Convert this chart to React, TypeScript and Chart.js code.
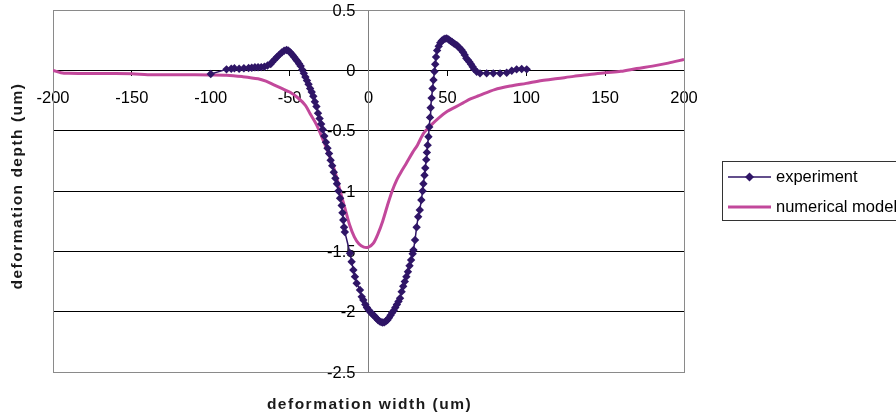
import React, { useEffect, useRef } from "react";
import { Chart, registerables } from "chart.js";

Chart.register(...registerables);

// Measured profile across the deformation (x in um, depth in um)
const experimentX: number[] = [
  -100, -90, -87, -85, -82, -79, -76, -74, -72, -70, -68, -66,
  -64, -62, -61, -59.5, -58, -56.5, -55, -53.5, -52, -51, -50, -49, -48, -47, -46, -45, -44, -43,
  -42, -41, -40, -39, -38, -37, -36, -35, -34, -33, -32, -31, -30, -29, -28, -27, -26, -25, -24, -23,
  -22, -21, -20, -19, -18, -17, -16.5, -16, -15.5, -15,
  -11.7, -10.7, -9.6, -8.6, -7.5, -5.4, -4.3, -3.3, -2, -1, 0, 1, 2, 3, 4, 5, 6, 7, 8, 9, 10, 11, 12,
  13, 14, 15, 16, 17, 18, 19, 20, 21, 22, 23, 24, 25, 26, 27, 28, 28.5, 29.5, 30.5, 31.5, 32.5, 33.5,
  34.3, 34.8, 35.5, 36, 36.6, 37, 37.5, 38, 38.5, 39, 39.4, 40, 40.6, 41.2, 41.8, 42.3, 42.8, 43.5,
  44.5, 45.5, 46.5, 47.5, 48.5, 49.6, 50.8, 52, 53, 54, 55, 56, 57, 58, 59, 60, 61, 62, 63, 64, 65,
  66, 67, 68.6, 70.7, 74.9, 79.1, 83.4, 87.6, 90.8, 93.9, 97.1, 100.3,
];
const experimentY: number[] = [
  -0.03, 0.008, 0.013, 0.017, 0.013, 0.017, 0.019, 0.022, 0.025, 0.025, 0.027, 0.03,
  0.04, 0.052, 0.07, 0.09, 0.11, 0.13, 0.148, 0.162, 0.168, 0.165, 0.155, 0.14, 0.125, 0.108, 0.09, 0.075, 0.055, 0.035,
  0.005, -0.025, -0.055, -0.085, -0.115, -0.15, -0.18, -0.215, -0.26, -0.3, -0.355, -0.4, -0.445, -0.49, -0.545, -0.595, -0.645, -0.69, -0.745, -0.79,
  -0.845, -0.895, -0.94, -1.0, -1.06, -1.12, -1.18, -1.24, -1.3, -1.34,
  -1.516, -1.586, -1.655, -1.71, -1.765, -1.82, -1.876, -1.903, -1.94, -1.965, -1.985, -2.0, -2.015, -2.027, -2.04, -2.055, -2.07, -2.08, -2.087, -2.09, -2.088, -2.08, -2.07,
  -2.05, -2.03, -2.01, -1.99, -1.965, -1.94, -1.915, -1.889, -1.834, -1.79, -1.751, -1.71, -1.669, -1.62, -1.572, -1.52, -1.489, -1.406, -1.3, -1.213, -1.157, -1.075,
  -1.0, -0.94, -0.87, -0.81, -0.74, -0.68, -0.62, -0.55, -0.47, -0.39, -0.31, -0.23, -0.15, -0.08, -0.01, 0.05, 0.11, 0.165,
  0.2, 0.228, 0.245, 0.255, 0.262, 0.265, 0.255, 0.243, 0.235, 0.225, 0.215, 0.208, 0.195, 0.18, 0.168, 0.15, 0.128, 0.1, 0.085, 0.07, 0.05,
  0.03, 0.01, -0.012, -0.025, -0.025, -0.025, -0.025, -0.02, -0.003, 0.008, 0.011, 0.008,
];

// Simulated profile from the numerical model
const modelX: number[] = [
  -200, -195, -190, -170, -150, -140, -120, -100, -90, -80, -70, -65, -60, -55, -50, -45, -40, -37,
  -33, -29, -25, -21, -18, -15, -12, -9, -6, -3, 0, 3, 6, 9, 12, 15, 18, 21, 24, 28, 31, 35, 40, 45,
  50, 55, 60, 65, 70, 80, 90, 100, 110, 120, 130, 140, 150, 160, 170, 180, 190, 200,
];
const modelY: number[] = [
  0.0, -0.02, -0.025, -0.027, -0.028, -0.036, -0.037, -0.038, -0.04, -0.052, -0.07, -0.09, -0.12, -0.15, -0.18, -0.225, -0.29, -0.36,
  -0.45, -0.57, -0.7, -0.85, -1.0, -1.14, -1.28, -1.38, -1.44, -1.465, -1.465, -1.435, -1.355, -1.25, -1.12, -1.0, -0.905, -0.835, -0.77, -0.68, -0.62, -0.52, -0.45, -0.39,
  -0.34, -0.305, -0.27, -0.235, -0.21, -0.16, -0.13, -0.108, -0.085, -0.068, -0.05, -0.035, -0.02, -0.008, 0.015, 0.035, 0.06, 0.09,
];

const xTicks: number[] = [-200, -150, -100, -50, 0, 50, 100, 150, 200];
const yTicks: number[] = [0.5, 0, -0.5, -1, -1.5, -2, -2.5];

const seriesNames: string[] = ["experiment", "numerical model"];
const xTitle = "deformation width (um)";
const yTitle = "deformation depth (um)";

const EXP_COLOR = "#2f1566";
const MODEL_COLOR = "#c2489b";
const FONT = "'Liberation Sans', Arial, sans-serif";
const TICK_FONT = `16.5px ${FONT}`;

const toPoints = (xs: number[], ys: number[]) => xs.map((x, i) => ({ x, y: ys[i] }));

const decorPlugin = {
  id: "decor",
  beforeDatasetsDraw(chart: any) {
    const { ctx, chartArea: a, scales } = chart;
    ctx.save();
    // plot-area frame
    ctx.strokeStyle = "#8a8a8a";
    ctx.lineWidth = 1;
    ctx.strokeRect(Math.round(a.left) + 0.5, Math.round(a.top) + 0.5, Math.round(a.right - a.left), Math.round(a.bottom - a.top));
    // value labels beside the vertical axis, which crosses at x = 0
    const axisX = scales.x.getPixelForValue(0);
    ctx.fillStyle = "#000";
    ctx.font = TICK_FONT;
    ctx.textAlign = "right";
    ctx.textBaseline = "middle";
    yTicks.forEach((v) => {
      ctx.fillText(String(v), axisX - 13, scales.y.getPixelForValue(v) + 1);
    });
    ctx.restore();
  },
  afterDraw(chart: any) {
    const { ctx, chartArea: a } = chart;
    ctx.save();
    // axis titles
    ctx.fillStyle = "#1a1a1a";
    ctx.font = `bold 15.5px ${FONT}`;
    (ctx as any).letterSpacing = "1.5px";
    ctx.textAlign = "center";
    ctx.textBaseline = "middle";
    ctx.fillText(xTitle, (a.left + a.right) / 2 + 1, 405);
    ctx.save();
    ctx.translate(18, (a.top + a.bottom) / 2 - 5);
    ctx.rotate(-Math.PI / 2);
    ctx.fillText(yTitle, 0, 0);
    ctx.restore();
    (ctx as any).letterSpacing = "0px";

    // legend
    const lx = 722, ly = 161, lw = 300, lh = 59;
    ctx.strokeStyle = "#333";
    ctx.lineWidth = 1;
    ctx.strokeRect(lx + 0.5, ly + 0.5, lw, lh);
    const rows = [177, 207];
    ctx.font = TICK_FONT;
    ctx.textAlign = "left";
    ctx.textBaseline = "middle";
    ctx.strokeStyle = EXP_COLOR;
    ctx.lineWidth = 1.5;
    ctx.beginPath();
    ctx.moveTo(728, rows[0]);
    ctx.lineTo(771, rows[0]);
    ctx.stroke();
    ctx.fillStyle = EXP_COLOR;
    ctx.beginPath();
    ctx.moveTo(749.5, rows[0] - 4.5);
    ctx.lineTo(754, rows[0]);
    ctx.lineTo(749.5, rows[0] + 4.5);
    ctx.lineTo(745, rows[0]);
    ctx.closePath();
    ctx.fill();
    ctx.strokeStyle = MODEL_COLOR;
    ctx.lineWidth = 3;
    ctx.beginPath();
    ctx.moveTo(728, rows[1]);
    ctx.lineTo(771, rows[1]);
    ctx.stroke();
    ctx.fillStyle = "#000";
    ctx.fillText(seriesNames[0], 776, rows[0]);
    ctx.fillText(seriesNames[1], 776, rows[1]);
    ctx.restore();
  },
};

const noPadding = (s: any) => {
  s.paddingTop = 0;
  s.paddingBottom = 0;
  s.paddingLeft = 0;
  s.paddingRight = 0;
};

export default function App() {
  const canvasRef = useRef<HTMLCanvasElement | null>(null);

  useEffect(() => {
    const canvas = canvasRef.current;
    if (!canvas) return;
    const chart = new Chart(canvas, {
      type: "scatter",
      data: {
        datasets: [
          {
            label: seriesNames[0],
            data: toPoints(experimentX, experimentY),
            showLine: true,
            borderColor: EXP_COLOR,
            backgroundColor: EXP_COLOR,
            borderWidth: 1.5,
            pointStyle: "rectRot",
            pointRadius: 4.2,
            pointBorderWidth: 0,
            order: 1,
          },
          {
            label: seriesNames[1],
            data: toPoints(modelX, modelY),
            showLine: true,
            borderColor: MODEL_COLOR,
            backgroundColor: MODEL_COLOR,
            borderWidth: 3,
            pointRadius: 0,
            tension: 0.3,
            order: 2,
          },
        ],
      },
      options: {
        responsive: false,
        animation: false,
        devicePixelRatio: 1,
        layout: { padding: { left: 53, top: 10, right: 212, bottom: 47 } },
        plugins: {
          legend: { display: false },
          tooltip: { enabled: false },
          title: { display: false },
        },
        scales: {
          x: {
            type: "linear",
            position: { y: 0 } as any,
            min: -200,
            max: 200,
            afterBuildTicks: (s: any) => {
              s.ticks = xTicks.map((v) => ({ value: v }));
            },
            afterFit: noPadding,
            ticks: {
              color: "#000",
              font: { family: FONT, size: 16.5 },
              padding: 13,
              maxRotation: 0,
              autoSkip: false,
              callback: (v: any) => String(v),
            },
            grid: { drawOnChartArea: false, drawTicks: true, tickLength: 5, tickColor: "#000" },
            border: { color: "#000", width: 1 },
          },
          y: {
            type: "linear",
            position: { x: 0 } as any,
            min: -2.5,
            max: 0.5,
            afterBuildTicks: (s: any) => {
              s.ticks = yTicks.map((v) => ({ value: v }));
            },
            afterFit: noPadding,
            ticks: { display: false },
            grid: {
              drawTicks: true,
              tickLength: 5,
              tickColor: "#000",
              color: (c: any) =>
                c.tick && (c.tick.value === 0.5 || c.tick.value === -2.5) ? "rgba(0,0,0,0)" : "#000",
              lineWidth: 1,
            },
            border: { color: "#808080", width: 1 },
          },
        },
      },
      plugins: [decorPlugin],
    });
    return () => chart.destroy();
  }, []);

  return (
    <div style={{ position: "absolute", left: 0, top: 0, width: 896, height: 419, background: "#fff" }}>
      <canvas ref={canvasRef} width={896} height={419} style={{ display: "block" }} />
    </div>
  );
}
